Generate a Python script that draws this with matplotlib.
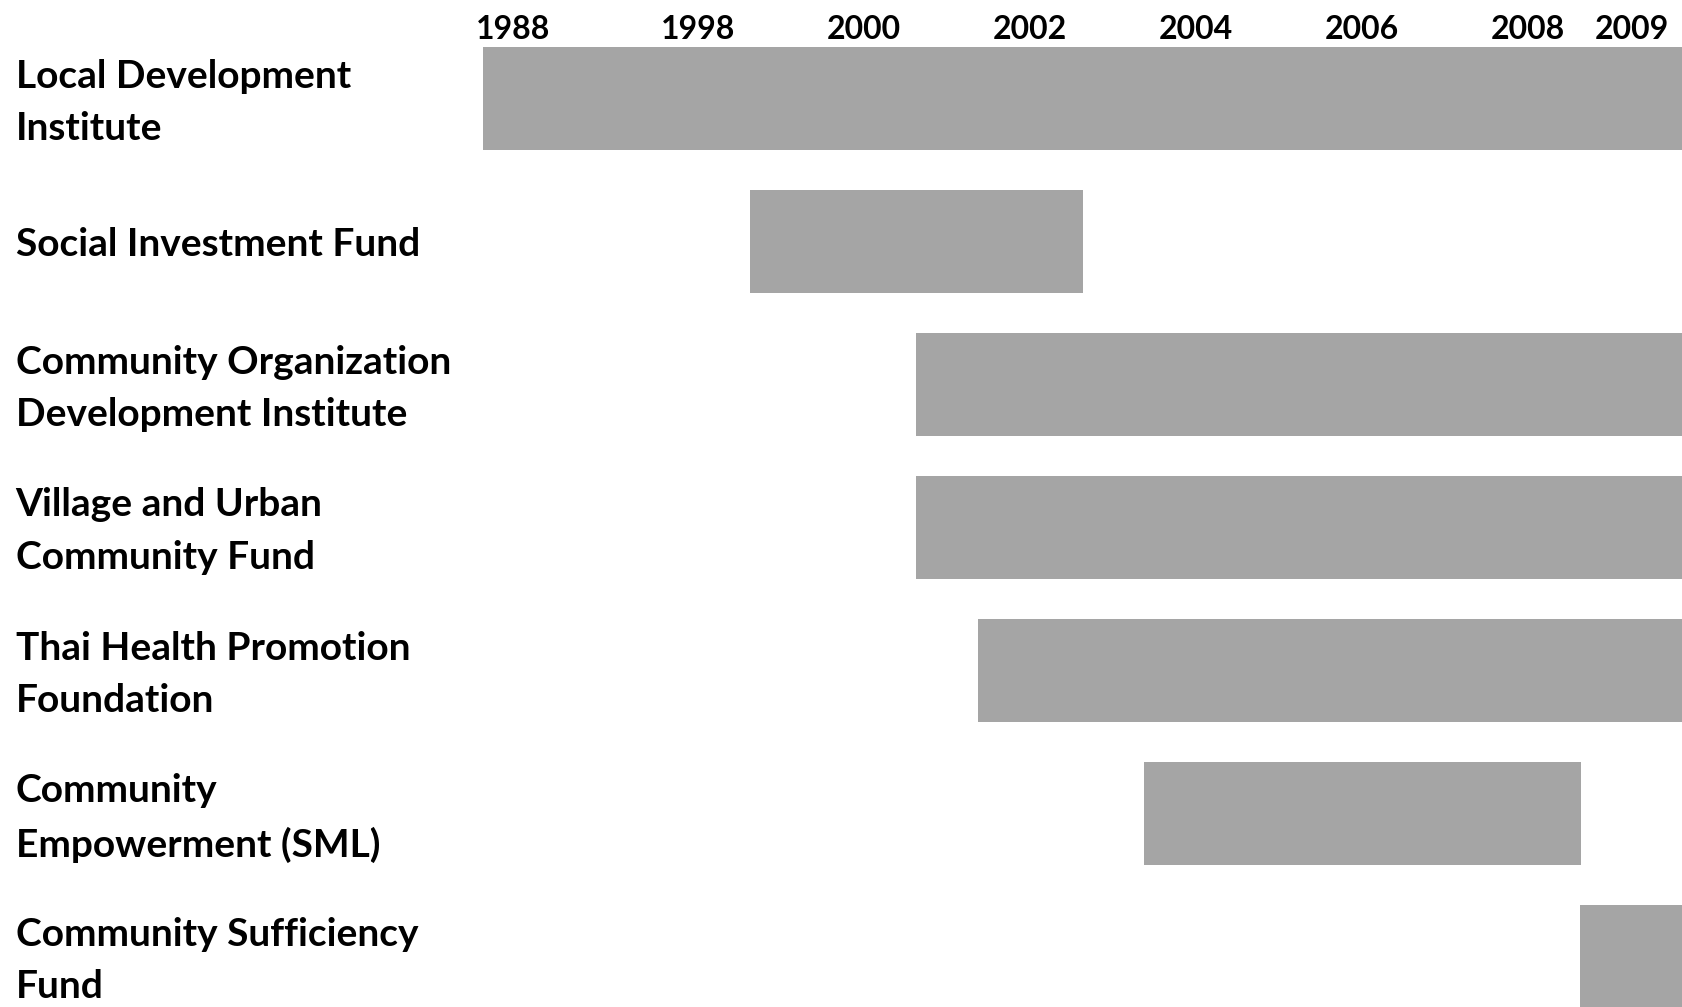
import matplotlib
matplotlib.use("Agg")
import matplotlib.pyplot as plt
from matplotlib.transforms import ScaledTranslation

# ---- data ----
categories = [
    "Local Development\nInstitute",
    "Social Investment Fund",
    "Community Organization\nDevelopment Institute",
    "Village and Urban\nCommunity Fund",
    "Thai Health Promotion\nFoundation",
    "Community\nEmpowerment (SML)",
    "Community Sufficiency\nFund",
]
starts = [1995.41, 1998.635, 2000.63, 2000.63, 2001.377, 2003.377, 2008.63]
ends = [2010.0, 2002.642, 2010.0, 2010.0, 2010.0, 2008.642, 2010.0]

tick_positions = [1995.78, 1998, 2000, 2002, 2004, 2006, 2008, 2009.256]
tick_labels = ["1988", "1998", "2000", "2002", "2004", "2006", "2008", "2009"]

# ---- figure ----
W, H = 1683, 1007
fig = plt.figure(figsize=(W / 100, H / 100), dpi=100)
ax_left_px, ax_top_px = 483, 44
ax = fig.add_axes([ax_left_px / W, 0, 1 - ax_left_px / W, (H - ax_top_px) / H])

row0, row_step = 98.5, 143.0
rows = list(range(len(categories)))
ax.barh(rows, [e - s for s, e in zip(starts, ends)], left=starts,
        height=0.72, color="#A5A5A5", edgecolor="none")

ax.set_xlim(1995.413, 2009.871)
ax.set_ylim((H - row0) / row_step, (ax_top_px - row0) / row_step)

for sp in ax.spines.values():
    sp.set_visible(False)

ax.xaxis.tick_top()
ax.set_xticks(tick_positions)
ax.set_xticklabels(tick_labels, fontfamily="Lato", fontweight="bold", fontsize=23)
ax.tick_params(axis="x", length=0, pad=0)

ax.set_yticks(rows)
ax.set_yticklabels(categories, fontfamily="Lato", fontweight="bold", fontsize=28,
                   ha="left", linespacing=1.62)
pad_pt = (ax_left_px - 15.7) * 72 / 100
ax.tick_params(axis="y", length=0, pad=pad_pt)

for lab in ax.get_yticklabels():
    if "\n" in lab.get_text():
        lab.set_transform(lab.get_transform() +
                          ScaledTranslation(0, 8 / 100, fig.dpi_scale_trans))

fig.savefig("out.png", dpi=100, facecolor="white")
